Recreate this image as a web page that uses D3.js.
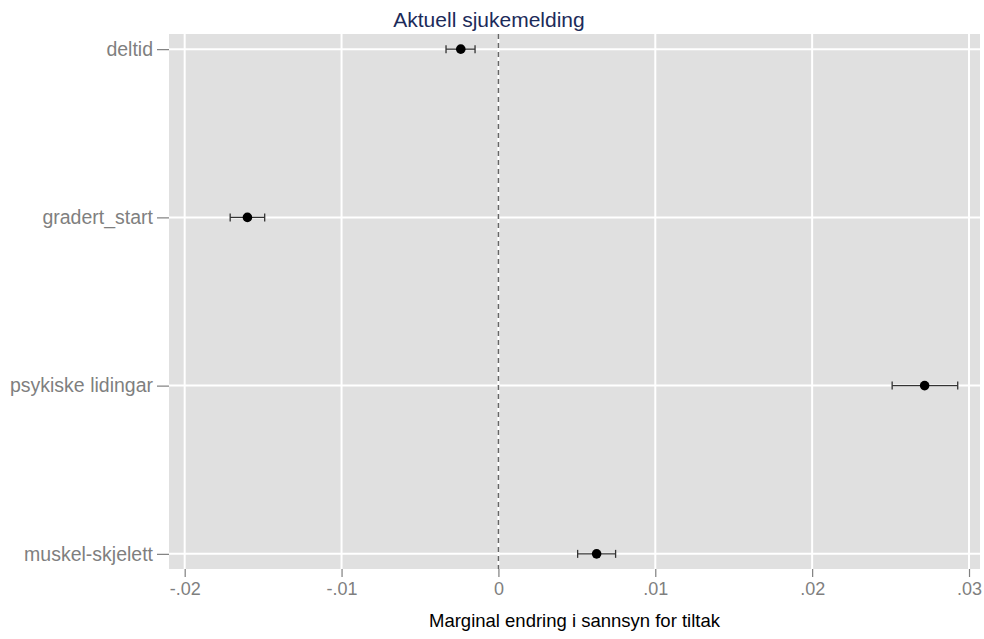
<!DOCTYPE html>
<html>
<head>
<meta charset="utf-8">
<script src="https://cdn.jsdelivr.net/npm/d3@7"></script>
<style>
  body { margin: 0; background: #fff; }
  text { font-family: "Liberation Sans", Arial, sans-serif; }
</style>
</head>
<body>
<svg id="chart" width="984" height="639"></svg>
<script>
// Marginal effects with confidence intervals
const categories = ["deltid", "gradert_start", "psykiske lidingar", "muskel-skjelett"];
const estimates = [-0.0024, -0.0160, 0.02717, 0.00626];
const lower = [-0.00334, -0.01710, 0.02510, 0.00505];
const upper = [-0.00149, -0.01490, 0.02928, 0.00747];
const xTicks = [-0.02, -0.01, 0, 0.01, 0.02, 0.03];
const xTickLabels = ["-.02", "-.01", "0", ".01", ".02", ".03"];

const rows = categories.map((c, i) => ({ cat: c, est: estimates[i], lo: lower[i], hi: upper[i] }));

const svg = d3.select("#chart");
const margin = { left: 169, right: 4, top: 34, bottom: 70 };
const W = 984, H = 639;
const plotW = W - margin.left - margin.right;
const plotH = H - margin.top - margin.bottom;

const x = d3.scaleLinear().domain([-0.0210, 0.0307]).range([0, plotW]);
const y = d3.scalePoint().domain(categories).range([0, plotH]).padding(0.09);

const g = svg.append("g").attr("transform", `translate(${margin.left},${margin.top})`);

// panel background
g.append("rect").attr("width", plotW).attr("height", plotH).attr("fill", "#e0e0e0");

// grid lines
g.selectAll(".vgrid").data(xTicks).enter().append("line")
  .attr("x1", d => x(d)).attr("x2", d => x(d))
  .attr("y1", 0).attr("y2", plotH)
  .attr("stroke", "#fff").attr("stroke-width", 2);
g.selectAll(".hgrid").data(categories).enter().append("line")
  .attr("x1", 0).attr("x2", plotW)
  .attr("y1", d => y(d)).attr("y2", d => y(d))
  .attr("stroke", "#fff").attr("stroke-width", 2);

// zero reference line
g.append("line")
  .attr("x1", x(0)).attr("x2", x(0)).attr("y1", 0).attr("y2", plotH)
  .attr("stroke", "#666").attr("stroke-width", 1.5).attr("stroke-dasharray", "5,4");

// error bars
const eb = g.selectAll(".eb").data(rows).enter().append("g")
  .attr("stroke", "#333").attr("stroke-width", 1.3);
eb.append("line")
  .attr("x1", d => x(d.lo)).attr("x2", d => x(d.hi))
  .attr("y1", d => y(d.cat)).attr("y2", d => y(d.cat));
eb.append("line")
  .attr("x1", d => x(d.lo)).attr("x2", d => x(d.lo))
  .attr("y1", d => y(d.cat) - 4).attr("y2", d => y(d.cat) + 4);
eb.append("line")
  .attr("x1", d => x(d.hi)).attr("x2", d => x(d.hi))
  .attr("y1", d => y(d.cat) - 4).attr("y2", d => y(d.cat) + 4);

// points
g.selectAll(".pt").data(rows).enter().append("circle")
  .attr("cx", d => x(d.est)).attr("cy", d => y(d.cat)).attr("r", 4.8)
  .attr("fill", "#000");

// x axis
const xAxis = d3.axisBottom(x).tickValues(xTicks)
  .tickFormat((d, i) => xTickLabels[i]).tickSize(8).tickPadding(5);
const xg = g.append("g").attr("transform", `translate(0,${plotH})`).call(xAxis);
xg.select(".domain").remove();
xg.selectAll(".tick line").attr("stroke", "#7f7f7f").attr("stroke-width", 1.2);
xg.selectAll(".tick text").attr("fill", "#7f7f7f").style("font-size", "18px");

// y axis
const yAxis = d3.axisLeft(y).tickSize(12).tickPadding(4);
const yg = g.append("g").call(yAxis);
yg.select(".domain").remove();
yg.selectAll(".tick line").attr("stroke", "#7f7f7f").attr("stroke-width", 1.2);
yg.selectAll(".tick text").attr("fill", "#7f7f7f").style("font-size", "19.5px");

// axis title
svg.append("text")
  .attr("x", margin.left + plotW / 2).attr("y", 627)
  .attr("text-anchor", "middle").attr("fill", "#000")
  .style("font-size", "18.5px")
  .text("Marginal endring i sannsyn for tiltak");

// chart title
svg.append("text")
  .attr("x", 489).attr("y", 27)
  .attr("text-anchor", "middle").attr("fill", "#1c2b5a")
  .style("font-size", "21px")
  .text("Aktuell sjukemelding");
</script>
</body>
</html>
